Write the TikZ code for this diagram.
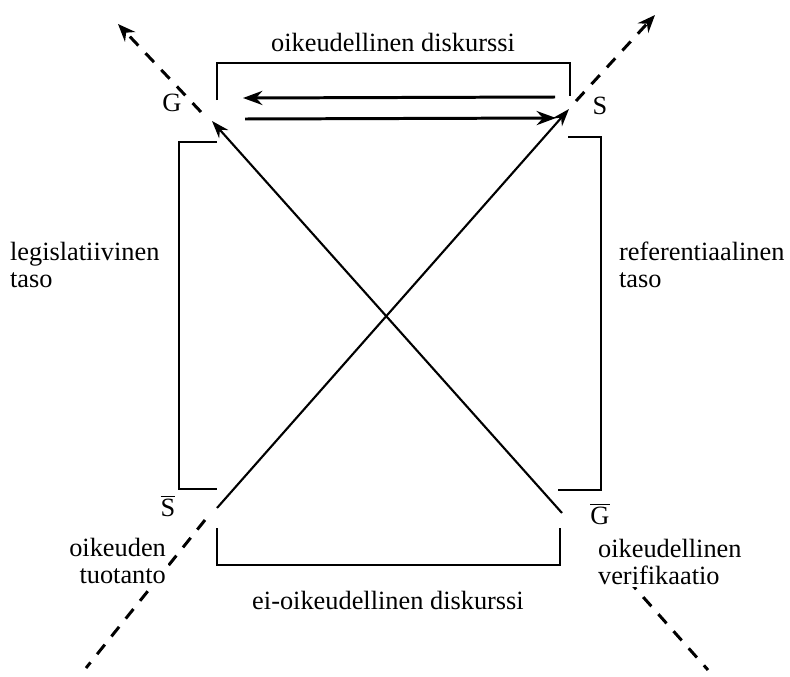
\documentclass[tikz,border=0pt]{standalone}
\usepackage{fontspec}
\setmainfont{Liberation Serif}
\usetikzlibrary{arrows.meta, positioning, calc}

\begin{document}
\begin{tikzpicture}[
  x=0.02cm, y=-0.02cm,
  lbl/.style={font=\fontsize{15}{15.5}\selectfont, inner sep=1pt},
  side/.style={lbl, align=left, anchor=west},
  brk/.style={line width=1.2pt},
  arr/.style={-{Stealth[length=11pt, width=8pt]}, line width=1.7pt},
  diag/.style={-{Stealth[length=10pt, width=7pt]}, line width=1.2pt},
  ext/.style={line width=1.7pt, dash pattern=on 7pt off 6pt}
]
  \useasboundingbox (0,0) rectangle (790,676);

  % corner labels
  \node[lbl] (G) at (172,103) {G};
  \node[lbl] (S) at (600,106) {S};
  \node[lbl] (Sbar) at (168,506) {$\overline{\mbox{S}}$};
  \node[lbl] (Gbar) at (600,514) {$\overline{\mbox{G}}$};

  % brackets
  \draw[brk] (217,100) |- (570,63) -- (570,96);
  \draw[brk] (217,142) -| (179,489) -- (217,489);
  \draw[brk] (568,137) -| (601,490) -- (558,490);
  \draw[brk] (217,528) |- (560,565) -- (560,528);

  % G <-> S
  \coordinate (g1) at (243,98);  \coordinate (s1) at (555,97);
  \coordinate (g2) at (245,119); \coordinate (s2) at (556,118);
  \draw[arr] (s1) -- (g1);
  \draw[arr] (g2) -- (s2);

  % diagonals
  \coordinate (gtip) at (212,121); \coordinate (gbase) at (562,513);
  \coordinate (stip) at (569,109); \coordinate (sbase) at (217,508);
  \draw[diag] (gbase) -- (gtip);
  \draw[diag] (sbase) -- (stip);

  % dashed extensions
  \coordinate (ul0) at (201,112); \coordinate (ul1) at (118,24);
  \coordinate (ur0) at (576,101); \coordinate (ur1) at (655,15);
  \coordinate (ll0) at (205,520); \coordinate (ll1) at (86,668);
  \coordinate (lr0) at (628,580); \coordinate (lr1) at (708,670);
  \draw[ext, -{Stealth[length=10pt, width=8pt]}] (ul0) -- (ul1);
  \draw[ext, -{Stealth[length=10pt, width=8pt]}] (ur0) -- (ur1);
  \draw[ext] (ll0) -- (ll1);
  \draw[ext] (lr0) -- (lr1);

  % texts
  \node[lbl] (topdisk) at (393,42) {oikeudellinen diskurssi};
  \node[lbl] (botdisk) at (388,600) {ei-oikeudellinen diskurssi};
  \node[side] (leg) at (8,265) {legislatiivinen\\taso};
  \node[side] (ref) at (617,265) {referentiaalinen\\taso};
  \node[lbl, align=right, anchor=east, fill=white] (tuot) at (168,561) {oikeuden\\tuotanto};
  \node[side, fill=white] (verif) at (596,562) {oikeudellinen\\verifikaatio};
\end{tikzpicture}
\end{document}
